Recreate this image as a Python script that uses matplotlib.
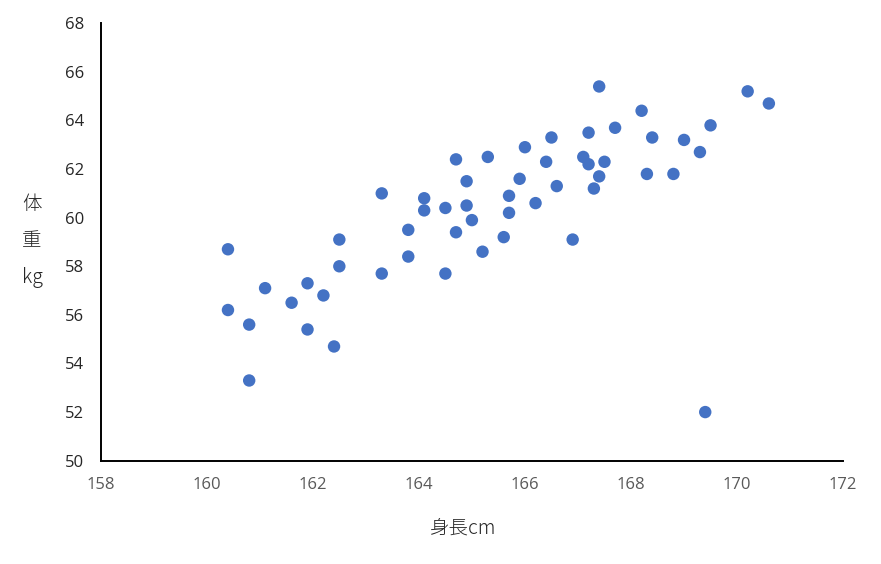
import matplotlib.pyplot as plt

plt.rcParams['font.family'] = ['Noto Sans CJK JP', 'DejaVu Sans']

# 身長 (cm) and 体重 (kg)
height = [160.4, 161.1, 161.9, 162.2, 162.5, 162.5, 163.3, 163.3, 163.8, 163.8,
          164.1, 164.1, 164.5, 164.5,
          160.4, 160.8, 160.8, 161.6, 161.9, 162.4,
          167.4, 170.2, 170.6, 168.2, 169.5, 167.7, 167.2, 166.5, 168.4, 169.0,
          169.3, 166.0, 164.7, 165.3, 167.1, 167.2, 167.5, 166.4, 167.4, 168.3,
          168.8, 167.3, 164.9, 165.9, 166.6, 164.9, 165.7, 165.7, 166.2, 165.0,
          164.7, 165.6, 166.9, 165.2, 169.4]
weight = [58.7, 57.1, 57.3, 56.8, 59.1, 58.0, 61.0, 57.7, 59.5, 58.4,
          60.8, 60.3, 60.4, 57.7,
          56.2, 55.6, 53.3, 56.5, 55.4, 54.7,
          65.4, 65.2, 64.7, 64.4, 63.8, 63.7, 63.5, 63.3, 63.3, 63.2,
          62.7, 62.9, 62.4, 62.5, 62.5, 62.2, 62.3, 62.3, 61.7, 61.8,
          61.8, 61.2, 61.5, 61.6, 61.3, 60.5, 60.9, 60.2, 60.6, 59.9,
          59.4, 59.2, 59.1, 58.6, 52.0]

xticks = [158, 160, 162, 164, 166, 168, 170, 172]
yticks = [50, 52, 54, 56, 58, 60, 62, 64, 66, 68]

fig = plt.figure(figsize=(8.81, 5.64), dpi=100)
ax = fig.add_axes([0.1143, 0.1832, 0.8427, 0.7755])

ax.scatter(height, weight, s=80, color='#4472C4', edgecolors='none', zorder=3)

ax.set_xlim(158, 172)
ax.set_ylim(50, 68)
ax.set_xticks(xticks)
ax.set_yticks(yticks)

for side in ['top', 'right']:
    ax.spines[side].set_visible(False)
for side in ['left', 'bottom']:
    ax.spines[side].set_linewidth(1.4)
    ax.spines[side].set_color('black')

ax.tick_params(axis='both', length=0)
ax.tick_params(axis='x', pad=12, labelsize=12, labelcolor='#595959')
ax.tick_params(axis='y', pad=12, labelsize=12, labelcolor='#262626')
for lab in ax.get_xticklabels() + ax.get_yticklabels():
    lab.set_family(['Open Sans', 'DejaVu Sans'])

fig.text(462 / 881, 1 - 528 / 564, '身長cm', ha='center', va='center',
         fontsize=14, color='#262626', fontweight='light')
fig.text(32 / 881, 1 - 241 / 564, '体\n重\nkg', ha='center', va='center',
         fontsize=14, color='#262626', fontweight='light', linespacing=1.95)

fig.savefig('out.png', dpi=100)
